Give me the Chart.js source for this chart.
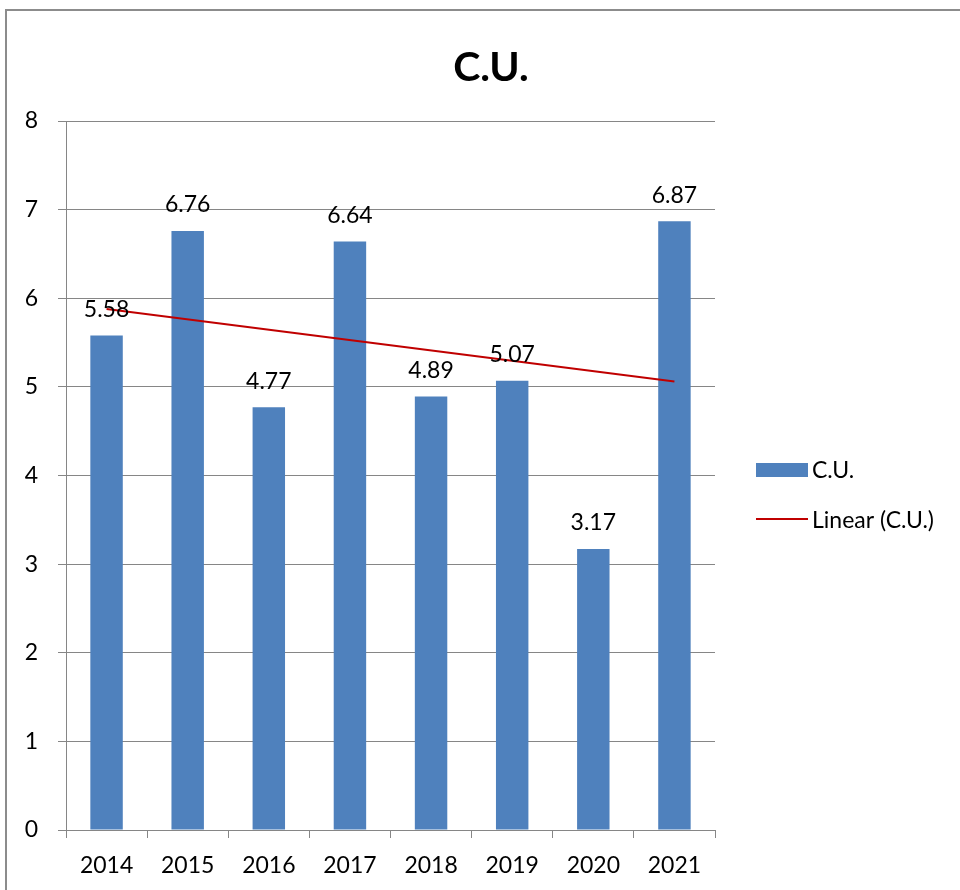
<!DOCTYPE html>
<html>
<head>
<meta charset="utf-8">
<script src="https://cdn.jsdelivr.net/npm/chart.js@4.4.1/dist/chart.umd.min.js"></script>
<style>
  html, body { margin: 0; padding: 0; background: #fff; overflow: hidden; }
  #frame { position: absolute; left: 5px; top: 9px; width: 1000px; height: 1000px; border: 2px solid #8c8c8c; box-sizing: border-box; }
  #wrap { position: absolute; left: 0; top: 0; width: 960px; height: 890px; }
</style>
</head>
<body>
<div id="frame"></div>
<div id="wrap"><canvas id="cuChart" width="960" height="890"></canvas></div>
<script>
// данные графика
const years = ['2014', '2015', '2016', '2017', '2018', '2019', '2020', '2021'];
const cuValues = [5.58, 6.76, 4.77, 6.64, 4.89, 5.07, 3.17, 6.87];
// линия тренда (начало и конец)
const trendValues = [5.88, null, null, null, null, null, null, 5.06];
const yTicks = [0, 1, 2, 3, 4, 5, 6, 7, 8];

const FONT = 'Lato, "Open Sans", sans-serif';
const barColor = '#4F81BD';
const trendColor = '#C00000';

// подписи значений над столбцами + заголовок + легенда
const extrasPlugin = {
    id: 'extras',
    afterDatasetsDraw(chart) {
        const ctx = chart.ctx;
        const meta = chart.getDatasetMeta(0);
        ctx.save();
        ctx.fillStyle = '#000';
        ctx.font = '23px ' + FONT;
        ctx.textAlign = 'center';
        ctx.textBaseline = 'middle';
        meta.data.forEach((bar, i) => {
            ctx.fillText(cuValues[i].toFixed(2), bar.x, bar.y - 26);
        });
        ctx.restore();
    },
    afterDraw(chart) {
        const ctx = chart.ctx;
        ctx.save();
        // заголовок
        ctx.fillStyle = '#000';
        ctx.font = 'bold 41px ' + FONT;
        ctx.textAlign = 'center';
        ctx.textBaseline = 'middle';
        ctx.fillText('C.U.', 491, 68);

        // легенда
        ctx.font = '23px ' + FONT;
        ctx.textAlign = 'left';
        ctx.fillStyle = barColor;
        ctx.fillRect(756, 463, 52, 14);
        ctx.fillStyle = '#000';
        ctx.fillText('C.U.', 812, 471);
        ctx.strokeStyle = trendColor;
        ctx.lineWidth = 2;
        ctx.beginPath();
        ctx.moveTo(756, 519);
        ctx.lineTo(808, 519);
        ctx.stroke();
        ctx.fillText('Linear (C.U.)', 812, 521);
        ctx.restore();
    }
};

const ctx = document.getElementById('cuChart').getContext('2d');
const cuChart = new Chart(ctx, {
    type: 'bar',
    data: {
        labels: years,
        datasets: [
            {
                label: 'C.U.',
                data: cuValues,
                backgroundColor: barColor,
                borderWidth: 0,
                categoryPercentage: 1,
                barPercentage: 0.4,
                order: 2
            },
            {
                label: 'Linear (C.U.)',
                type: 'line',
                data: trendValues,
                borderColor: trendColor,
                borderWidth: 2,
                pointRadius: 0,
                spanGaps: true,
                fill: false,
                order: 1
            }
        ]
    },
    options: {
        responsive: false,
        animation: false,
        layout: {
            padding: { left: 0, top: 121, right: 245, bottom: 0 }
        },
        plugins: {
            legend: { display: false },
            title: { display: false },
            tooltip: { enabled: false }
        },
        scales: {
            x: {
                afterFit: (scale) => { scale.height = 60; },
                grid: {
                    offset: true,
                    drawOnChartArea: false,
                    drawTicks: true,
                    tickLength: 8,
                    color: '#868686'
                },
                border: { color: '#868686', width: 1 },
                ticks: {
                    color: '#000',
                    padding: 14,
                    font: { family: FONT, size: 23 }
                }
            },
            y: {
                min: 0,
                max: 8,
                afterFit: (scale) => { scale.width = 66; },
                afterBuildTicks: (axis) => {
                    axis.ticks = yTicks.map(v => ({ value: v }));
                },
                grid: {
                    color: '#868686',
                    lineWidth: 1,
                    tickLength: 8
                },
                border: { color: '#868686', width: 1 },
                ticks: {
                    color: '#000',
                    padding: 20,
                    font: { family: FONT, size: 23 }
                }
            }
        }
    },
    plugins: [extrasPlugin]
});
</script>
</body>
</html>
